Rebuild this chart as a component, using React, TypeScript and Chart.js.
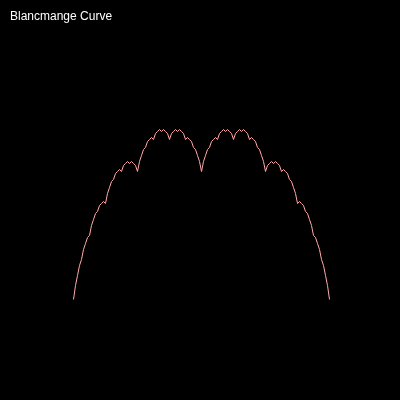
import React, { useEffect, useRef } from "react";
import { Chart, registerables } from "chart.js";

Chart.register(...registerables);

const TITLE = "Blancmange Curve";

// Sample positions: k/128 of the unit interval (index k)
const SAMPLE_INDEX: number[] = Array.from({ length: 129 }, (_, k) => k);

// Curve height at each sample, in units of 1/128
const HEIGHT_128THS: number[] = [
  0, 7, 12, 17, 20, 25, 28, 31, 32, 37, 40, 43, 44, 47, 48, 49, 48, 53, 56, 59, 60, 63, 64, 65, 64, 67, 68, 69, 68, 69, 68, 67, 64,
  69, 72, 75, 76, 79, 80, 81, 80, 83, 84, 85, 84, 85, 84, 83, 80, 83, 84, 85, 84, 85, 84, 83, 80, 81, 80, 79, 76, 75, 72, 69, 64,
  69, 72, 75, 76, 79, 80, 81, 80, 83, 84, 85, 84, 85, 84, 83, 80, 83, 84, 85, 84, 85, 84, 83, 80, 81, 80, 79, 76, 75, 72, 69, 64,
  67, 68, 69, 68, 69, 68, 67, 64, 65, 64, 63, 60, 59, 56, 53, 48, 49, 48, 47, 44, 43, 40, 37, 32, 31, 28, 25, 20, 17, 12, 7, 0,
];

const titlePlugin = {
  id: "cornerTitle",
  afterDraw(chart: any) {
    const ctx = chart.ctx;
    ctx.save();
    ctx.fillStyle = "#ffffff";
    ctx.font = '12px "Liberation Sans", Arial, sans-serif';
    ctx.textBaseline = "alphabetic";
    ctx.textAlign = "left";
    ctx.fillText(TITLE, 10, 20);
    ctx.restore();
  },
};

export default function App() {
  const ref = useRef<HTMLCanvasElement | null>(null);

  useEffect(() => {
    if (!ref.current) return;
    const chart = new Chart(ref.current, {
      type: "line",
      data: {
        datasets: [
          {
            data: SAMPLE_INDEX.map((x, i) => ({ x, y: HEIGHT_128THS[i] })),
            borderColor: "#ffaaaa",
            borderWidth: 1,
            pointRadius: 0,
            tension: 0,
            fill: false,
            clip: false as any,
          },
        ],
      },
      options: {
        animation: false,
        responsive: false,
        devicePixelRatio: 1,
        layout: { padding: { left: 73.5, right: 70.5, top: 43.5, bottom: 100.5 } },
        plugins: {
          legend: { display: false },
          tooltip: { enabled: false },
          title: { display: false },
        },
        scales: {
          x: { type: "linear", min: 0, max: 128, display: false },
          y: { type: "linear", min: 0, max: 128, display: false },
        },
      },
      plugins: [titlePlugin],
    });
    return () => chart.destroy();
  }, []);

  return (
    <div style={{ position: "fixed", left: 0, top: 0, width: 400, height: 400, background: "#000" }}>
      <canvas ref={ref} width={400} height={400} style={{ display: "block" }} />
    </div>
  );
}
